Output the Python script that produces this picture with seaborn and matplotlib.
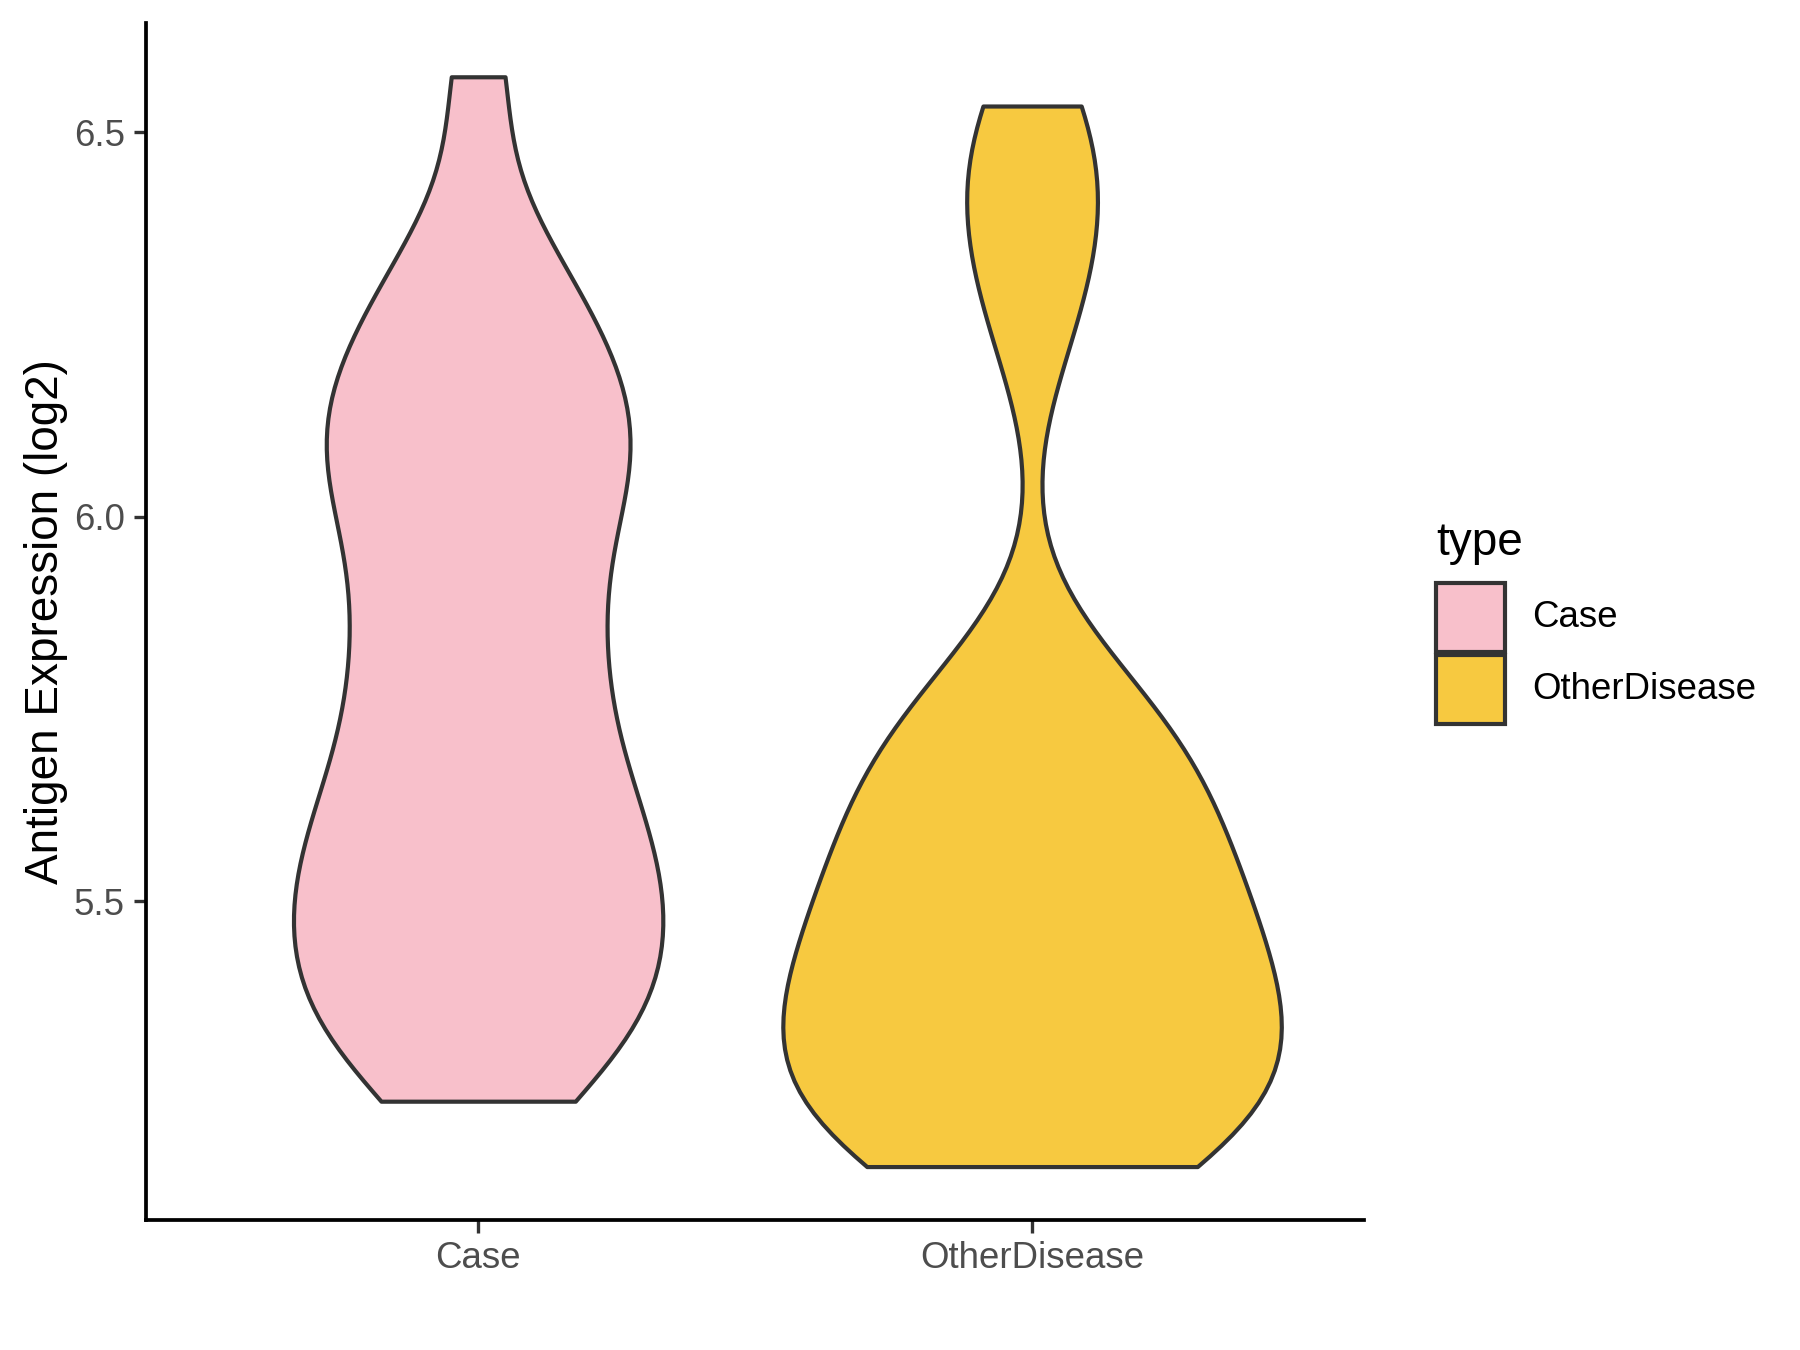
import pandas as pd
import numpy as np
import seaborn as sns
import matplotlib.pyplot as plt
from matplotlib.patches import Rectangle

# values (log2 expression)
case_vals = [5.24, 5.28, 5.32, 5.35, 5.38, 5.42, 5.44, 5.48, 5.50, 5.54,
             5.57, 5.60, 5.64, 5.68, 5.72, 5.78, 5.83, 5.86, 5.92, 5.98,
             6.02, 6.06, 6.09, 6.12, 6.16, 6.20, 6.24, 6.30, 6.36, 6.572]
other_vals = [5.155, 5.16, 5.17, 5.19, 5.21, 5.23, 5.25, 5.27, 5.29, 5.31,
              5.33, 5.35, 5.37, 5.39, 5.41, 5.43, 5.46, 5.49, 5.50, 5.52,
              5.55, 5.59, 5.62, 5.63, 5.67, 5.70, 5.72, 5.77, 5.80,
              6.24, 6.33, 6.41, 6.47, 6.534]
groups = ['Case', 'OtherDisease']
colors = ['#F8C0CB', '#F7C940']

df = pd.DataFrame({
    'type': ['Case'] * len(case_vals) + ['OtherDisease'] * len(other_vals),
    'value': case_vals + other_vals,
})

sns.set_style('white')
plt.rcParams['font.family'] = ['Liberation Sans', 'DejaVu Sans']

fig = plt.figure(figsize=(6, 4.5), dpi=300)
ax = fig.add_axes([0.081, 0.096, 0.677, 0.887])

sns.violinplot(data=df, x='type', y='value', hue='type', order=groups,
               hue_order=groups, palette=colors, cut=0, density_norm='area',
               common_norm=True, width=0.9, inner=None, linewidth=1.0,
               linecolor='#333333', bw_method=0.3, legend=False,
               saturation=1, ax=ax)

ax.set_xlim(-0.6, 1.6)
ax.set_ylim(5.085, 6.642)
ax.set_yticks([5.5, 6.0, 6.5])
ax.set_yticklabels(['5.5', '6.0', '6.5'])
ax.set_xlabel('')
ax.set_ylabel('Antigen Expression (log2)', fontsize=11, color='black', labelpad=1.5)
for s in ['top', 'right']:
    ax.spines[s].set_visible(False)
for s in ['left', 'bottom']:
    ax.spines[s].set_color('black')
    ax.spines[s].set_linewidth(0.9)
ax.tick_params(axis='both', which='both', length=3, width=0.8, color='#333333',
               labelsize=8.8, labelcolor='#4D4D4D', pad=2, left=True, bottom=True)

# legend, laid out like the ggplot guide
fig.text(0.798, 0.589, 'type', fontsize=11, color='black', va='baseline', ha='left')
box_bottoms = [0.517, 0.4637]
for g, c, yb in zip(groups, colors, box_bottoms):
    fig.add_artist(Rectangle((0.798, yb), 0.0383, 0.0511, transform=fig.transFigure,
                             facecolor=c, edgecolor='#333333', linewidth=1.0))
    fig.text(0.851, yb + 0.0255, g, fontsize=8.8, color='black', va='center', ha='left')

fig.savefig('out.png', dpi=300)
